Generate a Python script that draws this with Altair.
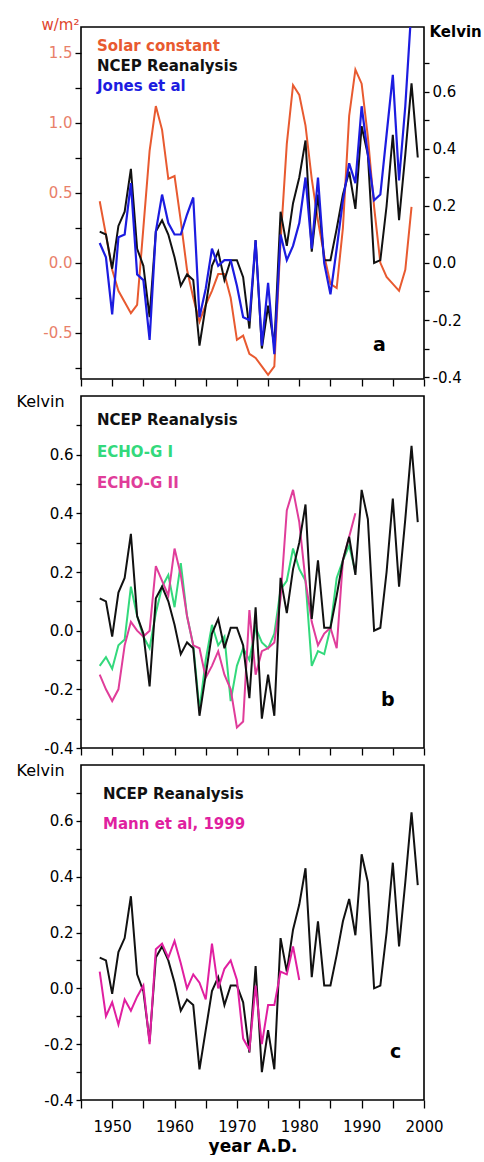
import altair as alt
import pandas as pd

FONT = "DejaVu Sans"

# ---------------- data ----------------
ncep_years = list(range(1948, 2000))
ncep = [0.11, 0.10, -0.02, 0.13, 0.18, 0.33, 0.05, -0.01, -0.19, 0.11,
        0.15, 0.10, 0.02, -0.08, -0.04, -0.06, -0.29, -0.15, -0.01, 0.04,
        -0.06, 0.01, 0.01, -0.05, -0.23, 0.08, -0.30, -0.15, -0.29, 0.18,
        0.06, 0.21, 0.30, 0.43, 0.04, 0.24, 0.01, 0.01, 0.12, 0.24,
        0.32, 0.19, 0.48, 0.38, 0.00, 0.01, 0.20, 0.45, 0.15, 0.38,
        0.63, 0.37]

solar_years = list(range(1948, 1999))
solar = [0.44, 0.20, -0.05, -0.20, -0.28, -0.36, -0.30, 0.25, 0.80, 1.12,
         0.95, 0.60, 0.62, 0.30, -0.05, -0.25, -0.42, -0.30, -0.20, -0.08,
         -0.08, -0.25, -0.55, -0.52, -0.65, -0.68, -0.74, -0.80, -0.74, 0.15,
         0.85, 1.27, 1.20, 0.98, 0.60, 0.30, 0.05, -0.15, -0.18, 0.25,
         1.05, 1.38, 1.28, 0.90, 0.40, 0.00, -0.10, -0.15, -0.20, -0.05,
         0.40]

jones_years = list(range(1948, 1999))
jones = [0.07, 0.02, -0.18, 0.09, 0.10, 0.28, -0.04, -0.06, -0.27, 0.11,
         0.24, 0.14, 0.10, 0.10, 0.17, 0.23, -0.19, -0.09, 0.05, -0.01,
         0.01, 0.01, -0.08, -0.19, -0.20, 0.08, -0.29, -0.07, -0.32, 0.10,
         0.01, 0.06, 0.14, 0.30, 0.05, 0.30, 0.00, -0.11, 0.05, 0.22,
         0.35, 0.28, 0.55, 0.38, 0.22, 0.24, 0.45, 0.66, 0.29, 0.55,
         0.90]

echo1_years = list(range(1948, 1990))
echo1 = [-0.12, -0.09, -0.13, -0.05, -0.03, 0.15, 0.05, -0.02, -0.06, 0.06,
         0.15, 0.19, 0.08, 0.23, 0.05, -0.05, -0.27, -0.10, 0.02, -0.05,
         -0.02, -0.24, -0.12, -0.06, -0.10, 0.01, -0.04, -0.06, -0.01, 0.14,
         0.17, 0.28, 0.21, 0.17, -0.12, -0.07, -0.08, 0.01, 0.18, 0.24,
         0.29, 0.20]

echo2_years = list(range(1948, 1990))
echo2 = [-0.15, -0.20, -0.24, -0.20, -0.05, 0.03, 0.00, -0.02, 0.00, 0.22,
         0.17, 0.12, 0.28, 0.19, 0.05, -0.05, -0.06, -0.16, -0.12, -0.07,
         -0.15, -0.20, -0.33, -0.31, 0.07, -0.15, -0.07, -0.06, -0.04, 0.11,
         0.41, 0.48, 0.37, 0.17, 0.03, -0.05, -0.01, 0.01, -0.06, 0.24,
         0.32, 0.40]

mann_years = list(range(1948, 1981))
mann = [0.06, -0.10, -0.05, -0.13, -0.04, -0.08, -0.03, 0.01, -0.20, 0.14,
        0.16, 0.11, 0.17, 0.09, 0.00, 0.05, 0.02, -0.04, 0.16, 0.00,
        0.07, 0.10, 0.03, -0.18, -0.22, 0.01, -0.20, -0.06, -0.06, 0.06,
        0.05, 0.15, 0.03]

x_ticks = list(range(1945, 2001, 5))
kelvin_ticks = [-0.4, -0.3, -0.2, -0.1, 0.0, 0.1, 0.2, 0.3, 0.4, 0.5, 0.6, 0.7]
wm2_ticks = [-0.75, -0.5, -0.25, 0.0, 0.25, 0.5, 0.75, 1.0, 1.25, 1.5]

legend_a = ["Solar constant", "NCEP Reanalysis", "Jones et al"]
legend_b = ["NCEP Reanalysis", "ECHO-G I", "ECHO-G II"]
legend_c = ["NCEP Reanalysis", "Mann et al, 1999"]

C_SOLAR = "#e85a30"
C_NCEP = "#111111"
C_JONES = "#1c1ce0"
C_ECHO1 = "#33d97c"
C_ECHO2 = "#e03d9a"
C_MANN = "#e01fa0"


def df(years, values):
    return pd.DataFrame({"year": years, "value": values})


W = 343
x_scale = alt.Scale(domain=[1945, 2000], nice=False, zero=False)


def x_enc(show):
    if show:
        ax = alt.Axis(values=x_ticks, tickSize=8, labelPadding=11,
                      labelExpr="datum.value % 10 == 0 ? '' + datum.value : ''",
                      labelOverlap=False, labelFlush=False,
                      title="year A.D.", titleFontWeight="bold",
                      titleFontSize=17, titlePadding=4)
    else:
        ax = alt.Axis(values=x_ticks, tickSize=7, labels=False, title=None)
    return alt.X("year:Q", scale=x_scale, axis=ax)


K_EXPR = ("abs(round(datum.value*10)) % 2 == 0 ? "
          "replace(format(datum.value, '.1f'), '\u2212', '-') : ''")
W_EXPR = ("abs(round(datum.value*4)) % 2 == 0 ? "
          "replace(format(datum.value, '.1f'), '\u2212', '-') : ''")


def kelvin_left_y(domain):
    return alt.Y("value:Q", scale=alt.Scale(domain=domain, nice=False, zero=False),
                 axis=alt.Axis(orient="left", values=kelvin_ticks, labelExpr=K_EXPR,
                               tickSize=5, labelPadding=3, labelOverlap=False,
                               title="Kelvin", titleAngle=0, titleX=-65, titleY=5,
                               titleAlign="left", titleBaseline="middle",
                               titleFontWeight="normal", titleFontSize=16))


def line(data, color, y, show_x=False, width=2.0):
    return alt.Chart(data).mark_line(color=color, strokeWidth=width, clip=True).encode(
        x=x_enc(show_x), y=y)


def txt(label, color, x, y, size=15):
    return alt.Chart(pd.DataFrame({"t": [label]})).mark_text(
        align="left", baseline="middle", font=FONT, fontSize=size,
        fontWeight="bold", color=color).encode(
        x=alt.value(x), y=alt.value(y), text="t:N")


def zero_rule(y, show_x=False):
    return alt.Chart(df([1945], [0.0])).mark_rule(color="black", strokeWidth=1.6).encode(
        y=y, x=x_enc(show_x))


# ---------------- panel a ----------------
y_wm2 = alt.Y("value:Q", scale=alt.Scale(domain=[-0.83, 1.685], nice=False, zero=False),
              axis=alt.Axis(orient="left", values=wm2_ticks, labelExpr=W_EXPR,
                            tickSize=6, labelPadding=3, labelOverlap=False,
                            labelColor="#e8806a", title="w/m\u00b2", titleColor="#e0452e",
                            titleAngle=0, titleX=-40, titleY=-3, titleAlign="left",
                            titleBaseline="middle", titleFontWeight="normal",
                            titleFontSize=15))
y_kelvin_right = alt.Y("value:Q", scale=alt.Scale(domain=[-0.407, 0.828], nice=False, zero=False),
                       axis=alt.Axis(orient="right", values=kelvin_ticks, labelExpr=K_EXPR,
                                     tickSize=5, labelPadding=3, labelOverlap=False,
                                     title="Kelvin", titleAngle=0, titleX=5, titleY=4,
                                     titleAlign="left", titleBaseline="middle",
                                     titleFontWeight="bold", titleFontSize=15))

left_a = alt.layer(
    zero_rule(y_wm2),
    line(df(solar_years, solar), C_SOLAR, y_wm2),
    txt(legend_a[0], C_SOLAR, 16, 19),
    txt(legend_a[1], C_NCEP, 16, 39),
    txt(legend_a[2], C_JONES, 16, 59),
    txt("a", "black", 292, 318, 19),
)
right_a = alt.layer(
    line(df(ncep_years, ncep), C_NCEP, y_kelvin_right),
    line(df(jones_years, jones), C_JONES, y_kelvin_right, width=2.2),
)
panel_a = alt.layer(left_a, right_a).resolve_scale(y="independent").properties(
    width=W, height=352)

# ---------------- panel b ----------------
y_b = kelvin_left_y([-0.4, 0.8])
panel_b = alt.layer(
    zero_rule(y_b),
    line(df(echo1_years, echo1), C_ECHO1, y_b),
    line(df(echo2_years, echo2), C_ECHO2, y_b),
    line(df(ncep_years, ncep), C_NCEP, y_b),
    txt(legend_b[0], C_NCEP, 16, 24),
    txt(legend_b[1], C_ECHO1, 16, 56),
    txt(legend_b[2], C_ECHO2, 16, 87),
    txt("b", "black", 300, 304, 19),
).properties(width=W, height=352)

# ---------------- panel c ----------------
y_c = kelvin_left_y([-0.4, 0.8])
panel_c = alt.layer(
    zero_rule(y_c, True),
    line(df(ncep_years, ncep), C_NCEP, y_c, True),
    line(df(mann_years, mann), C_MANN, y_c, True),
    txt(legend_c[0], C_NCEP, 22, 29),
    txt(legend_c[1], C_MANN, 22, 59),
    txt("c", "black", 309, 287, 19),
).properties(width=W, height=335)

chart = alt.vconcat(panel_a, panel_b, panel_c, spacing=4).properties(
    padding={"left": 15, "top": 16, "right": 0, "bottom": 0},
    background="white",
).configure_axis(
    labelFont=FONT, titleFont=FONT, labelFontSize=15, titleFontSize=15,
    domain=False, grid=False, tickColor="black", tickWidth=1.3,
    labelColor="black", titleColor="black",
).configure_view(stroke="black", strokeWidth=1.6)

chart.save("out.html", embed_options={"renderer": "svg", "actions": False})
